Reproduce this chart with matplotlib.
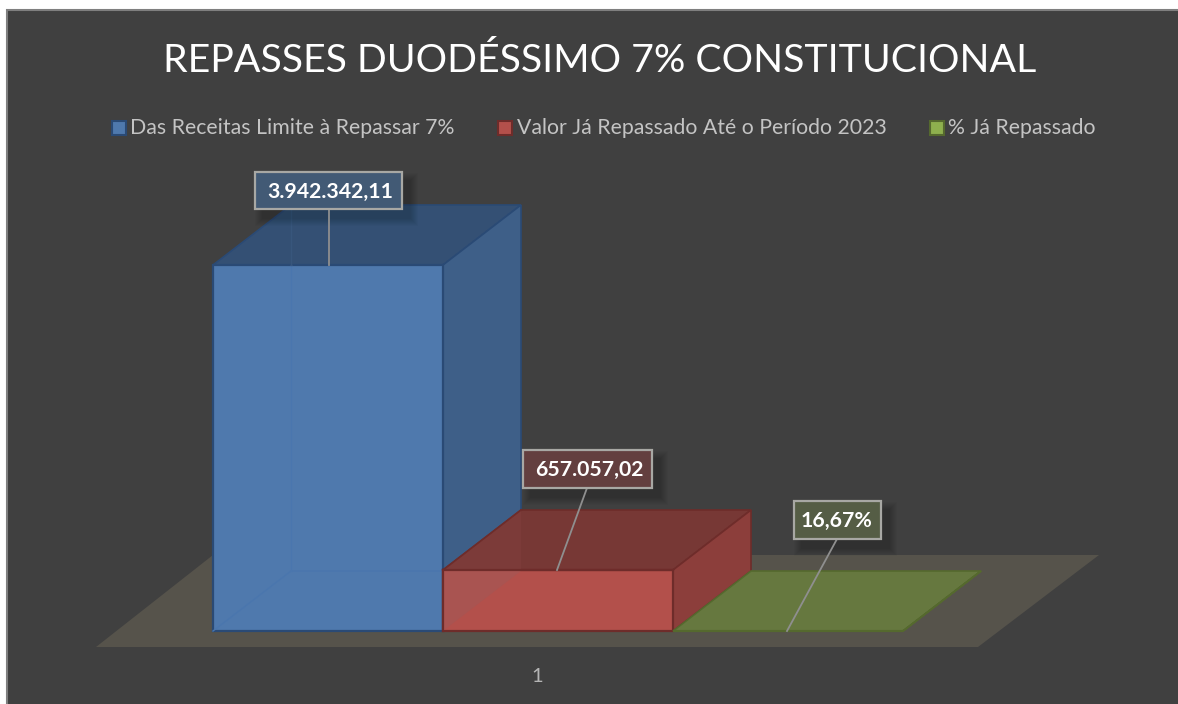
import numpy as np
import matplotlib
matplotlib.use("Agg")
import matplotlib.pyplot as plt
from matplotlib.patches import Polygon, Rectangle

titulo = "REPASSES DUODÉSSIMO 7% CONSTITUCIONAL"
series = ["Das Receitas Limite à Repassar 7%", "Valor Já Repassado Até o Período 2023", "% Já Repassado"]
valores = [3942342.11, 657057.02, 0.1667]
rotulos = ["3.942.342,11", "657.057,02", "16,67%"]
categoria = "1"

cor_frente = ["#4f79ad", "#b3504b", "#66783f"]
cor_topo = ["#345074", "#773835", "#66783f"]
cor_lado = ["#3e5f88", "#8c3e3b", "#66783f"]
cor_borda = ["#2a4a75", "#6e2c2a", "#55692e"]
cor_rotulo = ["#425a75", "#633f3f", "#555d45"]
cor_legenda = ["#4f79ad", "#b3504b", "#8eb04e"]

W, H = 1178, 704
plt.rcParams['font.family'] = ['Lato', 'DejaVu Sans']

fig = plt.figure(figsize=(W / 100, H / 100), dpi=100, facecolor="white")

# eixo do grafico: 1 unidade de x = largura de uma barra, y em valor
px_valor = valores[0] / 366.0
px_x = 230.0
ax = fig.add_axes([0, 0, 1, 1])
ax.set_xlim(-213 / px_x, (W - 213) / px_x)
ax.set_ylim(-(H - 631) * px_valor, 631 * px_valor)
ax.axis("off")


def px(x, y):
    return (x / W, 1 - y / H)


dx = 78 / px_x
dy = 60 * px_valor

# fundo do grafico
fig.patches.append(Rectangle(px(7, H + 2), (W + 4) / W, (H - 8) / H, transform=fig.transFigure,
                             facecolor="#404040", edgecolor="#7f7f7f", lw=1.5, zorder=-5))

# piso
ax.add_patch(Polygon([(-117 / px_x, -16 * px_valor), (765 / px_x, -16 * px_valor),
                      (886 / px_x, 76 * px_valor), (0.0, 76 * px_valor)],
                     closed=True, facecolor="#56534b", edgecolor="none", zorder=1))

for i, v in enumerate(valores):
    # topo
    ax.add_patch(Polygon([(i, v), (i + 1, v), (i + 1 + dx, v + dy), (i + dx, v + dy)],
                         closed=True, facecolor=cor_topo[i], edgecolor=cor_borda[i], lw=1.2, zorder=3 + i))
    # lado direito
    ax.add_patch(Polygon([(i + 1, 0), (i + 1 + dx, dy), (i + 1 + dx, v + dy), (i + 1, v)],
                         closed=True, facecolor=cor_lado[i], edgecolor=cor_borda[i], lw=1.2, zorder=3 + i))
    # frente
    ax.bar(i + 0.5, v, width=1.0, color=cor_frente[i], edgecolor=cor_borda[i], lw=1.6, zorder=4 + i)

# linhas internas das barras transparentes
ax.plot([0, dx, 1], [0, dy, dy], color="#4a76ae", lw=1, zorder=4.5)
ax.plot([dx, dx], [dy, valores[0]], color="#4a76ae", lw=1, zorder=4.5)
ax.plot([dx, dx], [valores[0], valores[0] + dy], color="#38567c", lw=1, zorder=4.5)
ax.add_patch(Polygon([(1, 0), (1 + dx, dy), (1, dy)],
                     closed=True, facecolor="#a95451", edgecolor="none", zorder=6))
ax.add_patch(Polygon([(1, valores[1]), (1 + dx, valores[1] + dy), (1 + dx, valores[1])],
                     closed=True, facecolor="#7c3b39", edgecolor="none", zorder=6))
ax.plot([1, 1], [0, valores[1]], color=cor_borda[1], lw=1.6, zorder=6.5)
ax.plot([1, 2], [valores[1], valores[1]], color=cor_borda[1], lw=1.6, zorder=6.5)
ax.plot([1, 1 + dx], [valores[1], valores[1] + dy], color=cor_borda[1], lw=1.2, zorder=6.5)

# sombra + caixa + linha dos rotulos
caixas = [(255, 172, 147, 37), (523, 450, 129, 38), (794, 501, 87, 38)]
centros = [330, 589, 837]
ancoras = [(329, 265), (557, 570), (787, 631)]
saidas = [(329, 209), (587, 488), (837, 539)]
for i, r in enumerate(rotulos):
    x, y, w, h = caixas[i]
    for k in range(8, 0, -1):
        fig.add_artist(Rectangle(px(x + 8 - k, y + h + 9 + k), (w + 2 * k) / W, (h + 2 * k) / H,
                                 transform=fig.transFigure, facecolor="black", edgecolor="none",
                                 alpha=0.025, zorder=8))
    fig.add_artist(plt.Line2D([ancoras[i][0] / W, saidas[i][0] / W],
                              [1 - ancoras[i][1] / H, 1 - saidas[i][1] / H],
                              color="#8f8f8f", lw=1.3, zorder=9))
    fig.add_artist(Rectangle(px(x, y + h), w / W, h / H, transform=fig.transFigure,
                             facecolor=cor_rotulo[i], edgecolor="#a8a8a4", lw=1.6, zorder=10))
    fig.text(centros[i] / W, 1 - (y + h / 2 + 1) / H, r, color="white", fontsize=15.3, fontweight="bold",
             ha="center", va="center", zorder=11)

# titulo
fig.text(600 / W, 1 - 61 / H, titulo, color="white", fontsize=28.3, ha="center", va="center", zorder=11)

# legenda
ley = 128
lex = [112, 498, 930]
ltx = [130, 517, 948]
for i, s in enumerate(series):
    fig.add_artist(Rectangle(px(lex[i], ley + 7), 14 / W, 14 / H, transform=fig.transFigure,
                             facecolor=cor_legenda[i], edgecolor=cor_borda[i], lw=1.5, zorder=11))
    fig.text(ltx[i] / W, 1 - ley / H, s, color="#c4c4c4", fontsize=15.3, ha="left", va="center", zorder=11)

# rotulo do eixo
fig.text(537 / W, 1 - 677 / H, categoria, color="#b5b5b5", fontsize=14.5, ha="center", va="center", zorder=11)

fig.savefig("out.png", dpi=100, facecolor="white")
